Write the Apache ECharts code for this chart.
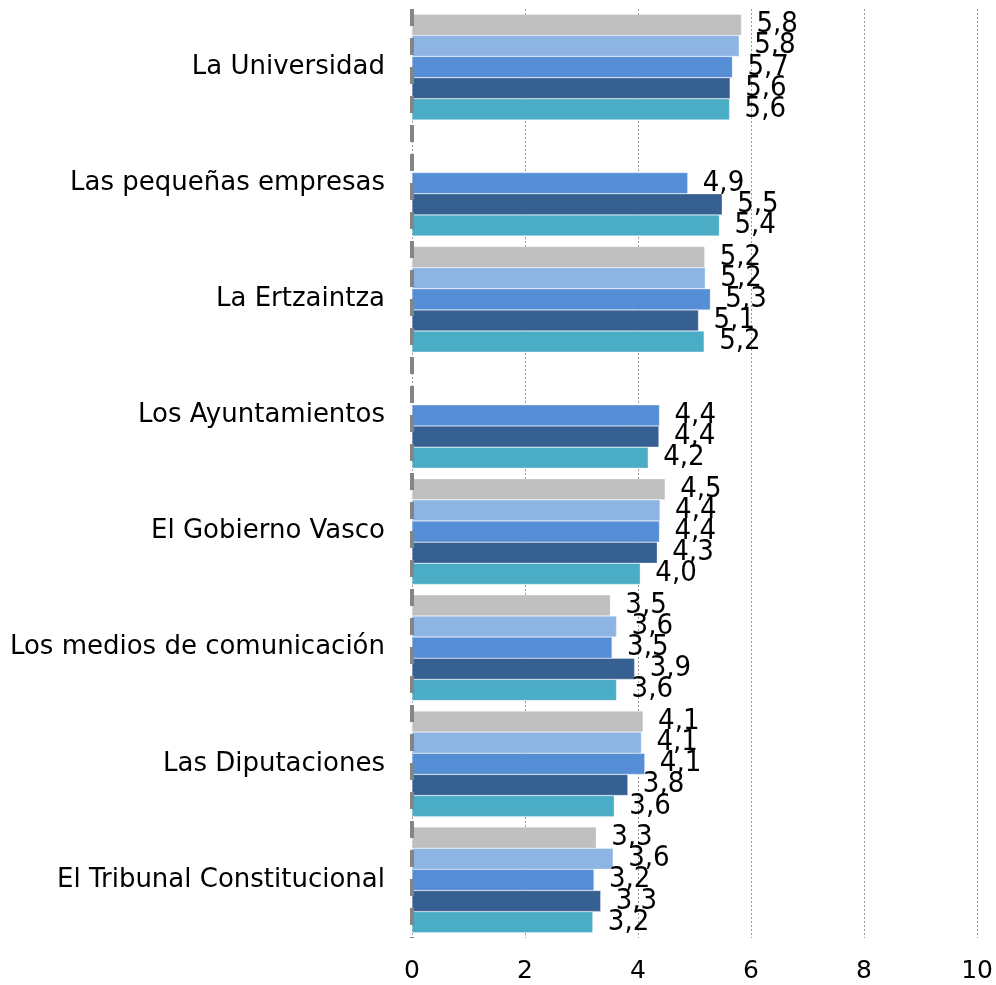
<!DOCTYPE html>
<html>
<head>
<meta charset="utf-8">
<script src="https://cdn.jsdelivr.net/npm/echarts@6/dist/echarts.min.js"></script>
<style>html,body{margin:0;padding:0;background:#fff}#c{width:996px;height:985px}</style>
</head>
<body>
<div id="c"></div>
<script>
const categories = ["La Universidad","Las pequeñas empresas","La Ertzaintza","Los Ayuntamientos","El Gobierno Vasco","Los medios de comunicación","Las Diputaciones","El Tribunal Constitucional"];
const xTicks = [0,2,4,6,8,10];
const seriesGray      = [5.83, '-',  5.18, '-',  4.48, 3.51, 4.09, 3.26];
const seriesLightBlue = [5.79, '-',  5.19, '-',  4.39, 3.62, 4.06, 3.56];
const seriesMidBlue   = [5.67, 4.88, 5.28, 4.38, 4.38, 3.54, 4.12, 3.22];
const seriesDarkBlue  = [5.63, 5.49, 5.07, 4.37, 4.34, 3.94, 3.82, 3.34];
const seriesTeal      = [5.62, 5.44, 5.17, 4.18, 4.04, 3.62, 3.58, 3.20];
const seriesNames = ["s1","s2","s3","s4","s5"];

const colors = ['#BFBFBF','#8EB4E3','#558ED5','#376092','#4BACC6'];
const allData = [seriesGray, seriesLightBlue, seriesMidBlue, seriesDarkBlue, seriesTeal];
const labelFont = '"Liberation Sans Narrow","DejaVu Sans Condensed","DejaVu Sans",sans-serif';
const mainFont = '"DejaVu Sans",Verdana,sans-serif';

const chart = echarts.init(document.getElementById('c'), null, {renderer:'canvas'});
chart.setOption({
  animation: false,
  backgroundColor: '#fff',
  grid: {left: 412, right: 18, top: 9, bottom: 47, containLabel: false},
  xAxis: {
    type: 'value', min: 0, max: 10, interval: 2,
    axisLine: {show: false}, axisTick: {show: false},
    splitLine: {show: true, lineStyle: {color: '#9a9a9a', width: 1, type: [2,2]}},
    axisLabel: {fontFamily: mainFont, fontSize: 25, color: '#000', margin: 21,
      formatter: v => xTicks.indexOf(v) >= 0 ? String(v) : ''}
  },
  yAxis: {
    type: 'category', data: categories, inverse: true, z: 5,
    axisLine: {show: true, lineStyle: {color: '#858585', width: 4, type: [17,12], cap: 'butt'}},
    axisTick: {show: false},
    axisLabel: {fontFamily: mainFont, fontSize: 26, color: '#000', margin: 27}
  },
  series: allData.map((d, i) => ({
    name: seriesNames[i], type: 'bar', data: d,
    barGap: '0%', barCategoryGap: '9%',
    itemStyle: {color: colors[i], borderColor: 'rgba(255,255,255,0.6)', borderWidth: 0.5},
    label: {show: true, position: 'right', distance: 15, fontFamily: labelFont, fontSize: 29, color: '#000',
      formatter: p => (typeof p.value === 'number') ? p.value.toFixed(1).replace('.', ',') : ''}
  }))
});
</script>
</body>
</html>
